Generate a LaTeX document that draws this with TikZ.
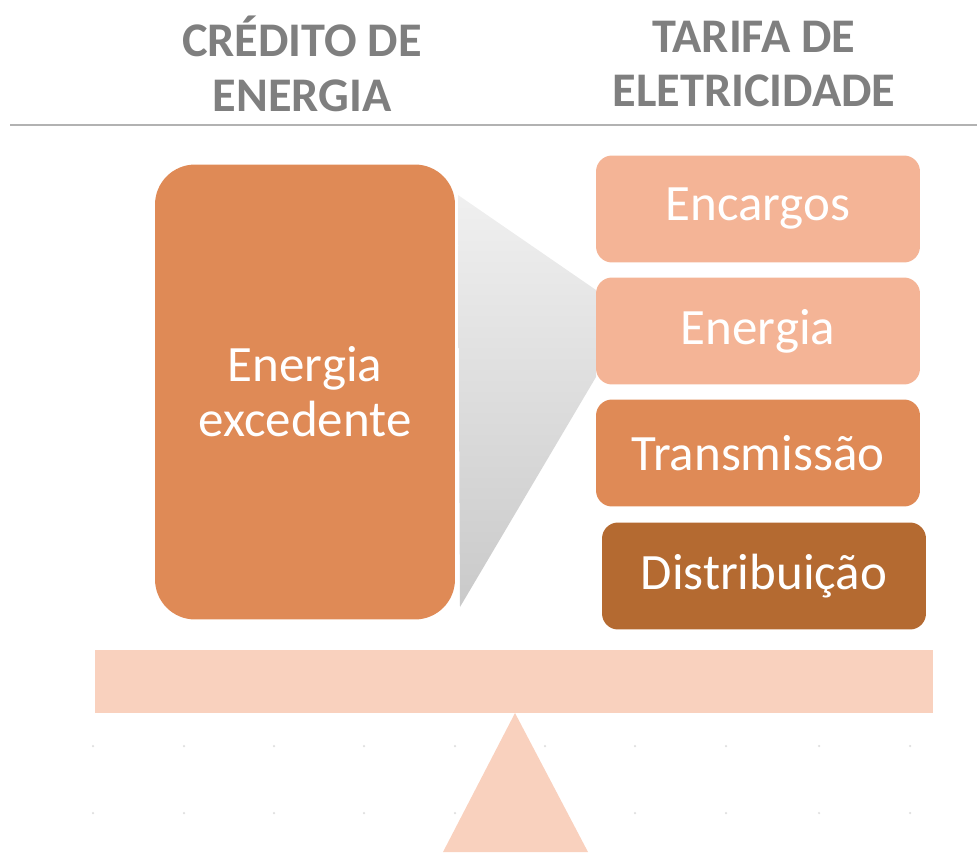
\documentclass[tikz,border=0pt]{standalone}
\usepackage{fontspec}
\setmainfont{Carlito}
\usepackage{xcolor}
\usetikzlibrary{shadings}
\definecolor{laranja}{HTML}{DF8A56}
\definecolor{salmao}{HTML}{F4B496}
\definecolor{marrom}{HTML}{B46A31}
\definecolor{rosado}{HTML}{F9D1BE}
\definecolor{cinzatexto}{HTML}{7F7F7F}
\tikzset{
titulo/.style={align=center, text=cinzatexto, font=\fontsize{27.5}{31}\selectfont\bfseries, inner sep=0pt},
parcela/.style={rectangle, rounded corners=0.32cm, draw=none, text=white, inner sep=0pt, minimum width=6.48cm, minimum height=2.14cm, font=\fontsize{29}{31}\selectfont},
credito/.style={rectangle, rounded corners=0.8cm, draw=none, fill=laranja, text=white, align=center, inner sep=0pt, minimum width=6cm, minimum height=9.1cm, font=\fontsize{29}{31.2}\selectfont},
ponto/.style={circle, fill=gray!25, inner sep=0pt, minimum size=0.05cm},
}

\begin{document}
\begin{tikzpicture}[x=0.02cm, y=-0.02cm]
  \useasboundingbox (0,0) rectangle (977,852);

  % titulos
  \node[titulo] at (302,64) (credtit) {CRÉDITO DE\\ENERGIA};
  \node[titulo] at (754,64) (tartit) {TARIFA DE\\ELETRICIDADE};
  \draw[line width=0.04cm, gray!60] (10,125) -- (977,125);

  % funil cinza
  \coordinate (fa) at (458,195);
  \coordinate (fb) at (596,290);
  \coordinate (fc) at (596,377);
  \coordinate (fd) at (460,607);
  \shade[top color=gray!12, bottom color=gray!42] (fa) -- (fb) -- (fc) -- (fd) -- cycle;

  \node[credito] at (305,392) (exced) {Energia\\excedente};

  \node[parcela, fill=salmao] at (758,209) (encargos) {Encargos};
  \node[parcela, fill=salmao] at (758,331) (energia) {Energia};
  \node[parcela, fill=laranja] at (758,453) (transm) {Transmissão};
  \node[parcela, fill=marrom] at (764,576) (distrib) {Distribuição};

  % pontos do fundo
  \foreach \px in {93,184,274,364,455,545,635,726,819,910} {
    \node[ponto] at (\px,746) {};
    \node[ponto] at (\px,813) {};
  }

  % balanca
  \fill[rosado] (95,650) rectangle (933,713);
  \coordinate (apice) at (515,713);
  \fill[rosado] (apice) -- (588,852) -- (443,852) -- cycle;
\end{tikzpicture}
\end{document}
